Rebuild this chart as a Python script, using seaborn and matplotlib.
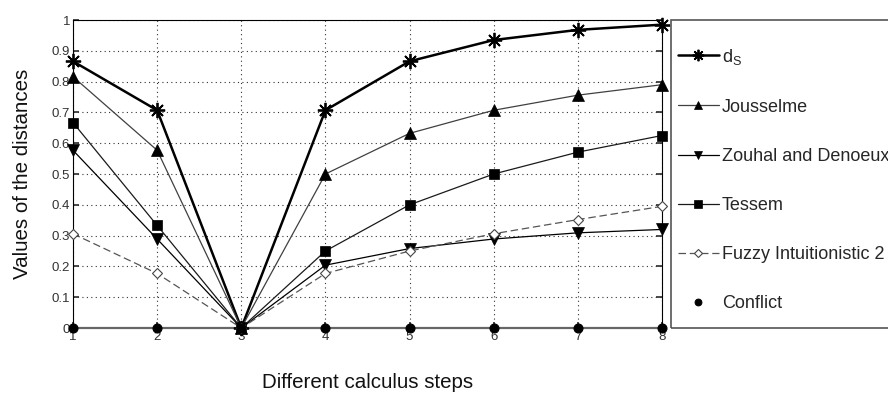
import pandas as pd
import seaborn as sns
import matplotlib.pyplot as plt
from matplotlib.patches import Rectangle

# données
etapes = [1, 2, 3, 4, 5, 6, 7, 8]
d_s = [0.866, 0.707, 0.0, 0.707, 0.866, 0.935, 0.968, 0.985]
jousselme = [0.816, 0.577, 0.0, 0.5, 0.632, 0.707, 0.756, 0.79]
zouhal = [0.577, 0.289, 0.0, 0.204, 0.258, 0.289, 0.309, 0.32]
tessem = [0.667, 0.333, 0.0, 0.25, 0.4, 0.5, 0.571, 0.625]
fuzzy = [0.306, 0.177, 0.0, 0.177, 0.25, 0.306, 0.352, 0.395]
conflit = [0, 0, 0, 0, 0, 0, 0, 0]

noms = ["d$_\\mathregular{S}$", "Jousselme", "Zouhal and Denoeux", "Tessem",
        "Fuzzy Intuitionistic 2", "Conflict"]

sns.set_theme(style="white")
plt.rcParams['font.family'] = ['Liberation Sans', 'DejaVu Sans']
plt.rcParams['xtick.direction'] = 'in'
plt.rcParams['ytick.direction'] = 'in'

fig = plt.figure(figsize=(8.88, 3.94), dpi=100)
ax = fig.add_axes([0.0822, 0.1675, 0.6633, 0.7817])

styles = [
    (d_s, dict(color="black", lw=1.8, marker=(8, 2, 0), markersize=11, mew=1.3,
               mec="black", ls="-")),
    (jousselme, dict(color="#404040", lw=0.9, marker="^", markersize=8.5, mew=0.5,
                     mec="black", mfc="black", ls="-")),
    (zouhal, dict(color="black", lw=0.9, marker="v", markersize=8.5, mew=0.5,
                  mec="black", mfc="black", ls="-")),
    (tessem, dict(color="#1a1a1a", lw=0.9, marker="s", markersize=7, mew=0.5,
                  mec="black", mfc="black", ls="-")),
    (fuzzy, dict(color="#555555", lw=0.9, marker="D", markersize=5.5, mfc="white",
                 mec="#444444", mew=0.8, ls=(0, (6, 3)))),
]
for (vals, st), nom in zip(styles, noms):
    kw = dict(st)
    sns.lineplot(x=etapes, y=vals, ax=ax, label=nom, linestyle=kw.pop("ls"),
                 linewidth=kw.pop("lw"), clip_on=False, zorder=4, **kw)

sns.lineplot(x=etapes, y=conflit, ax=ax, label=noms[5], linestyle="none",
             marker="o", color="black", mec="black", mfc="black", markersize=6.5,
             clip_on=False, zorder=5)

ax.set_xlim(1, 8)
ax.set_ylim(0, 1)
ax.set_xticks(etapes)
ax.set_yticks([i / 10 for i in range(11)])
ax.set_yticklabels(["0", "0.1", "0.2", "0.3", "0.4", "0.5", "0.6", "0.7", "0.8", "0.9", "1"])
ax.tick_params(axis="both", labelsize=9.5, colors="#333333", length=4,
               right=True, top=False, left=True, bottom=True)
ax.tick_params(axis="x", pad=2)
ax.tick_params(axis="y", pad=2)
ax.grid(True, linestyle=(0, (1, 3)), color="#333333", linewidth=0.8)
for s in ["top", "left", "right"]:
    ax.spines[s].set_color("black")
    ax.spines[s].set_linewidth(0.8)
ax.spines["bottom"].set_color("#666666")
ax.spines["bottom"].set_linewidth(1.6)

ax.set_ylabel("Values of the distances", fontsize=14.8, color="#111111", labelpad=14)
ax.set_xlabel("Different calculus steps", fontsize=14.8, color="#111111", labelpad=22)

# cadre de la légende, coupé par le bord droit comme sur l'original
fig.patches.append(Rectangle((671 / 888, 1 - 328 / 394), 0.4, 308 / 394,
                             transform=fig.transFigure, fill=False,
                             edgecolor="#555555", linewidth=1.2))

leg = ax.legend(loc="upper left", bbox_to_anchor=(674 / 888, 1 - 43 / 394),
                bbox_transform=fig.transFigure, fontsize=13, frameon=False,
                handlelength=2.3, handletextpad=0.15, labelspacing=1.78,
                borderpad=0.2, borderaxespad=0, markerscale=0.75)

plt.savefig("out.png", dpi=100)
plt.close()
